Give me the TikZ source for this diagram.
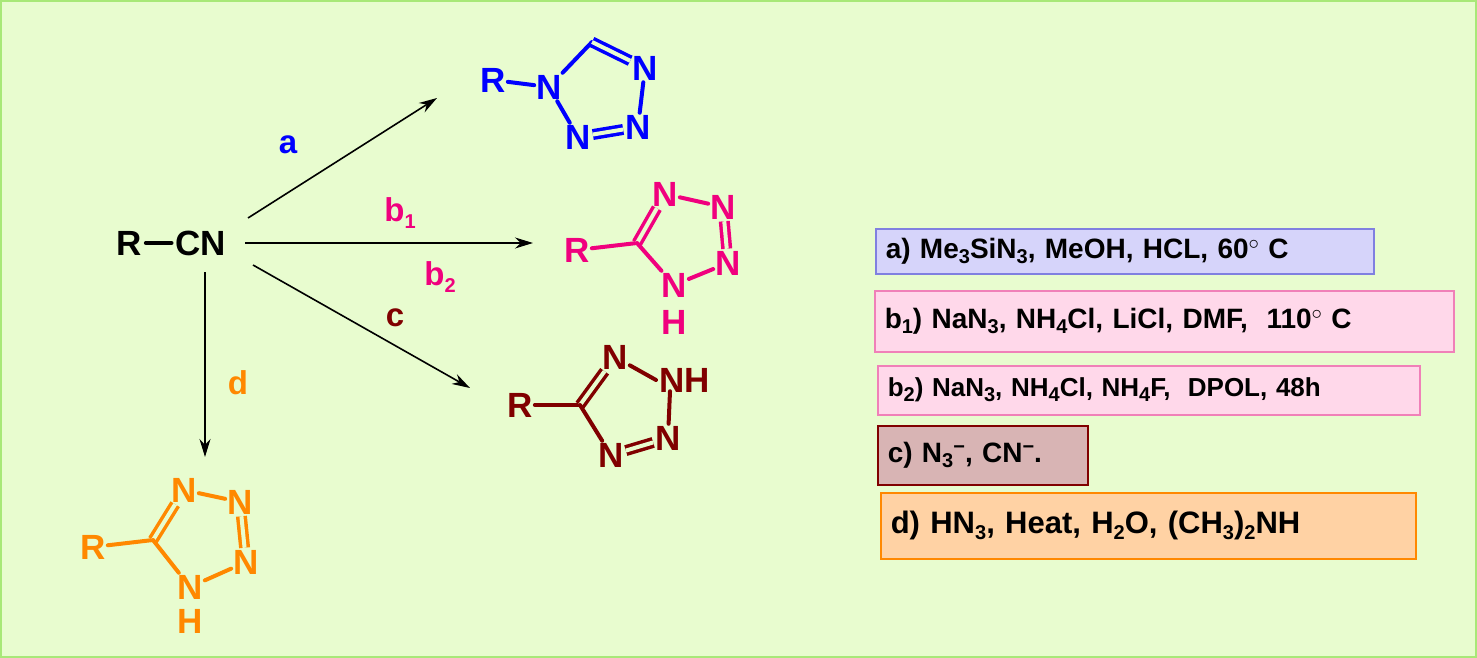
\documentclass[tikz,border=0pt]{standalone}
\usepackage{fontspec}
\setmainfont{Liberation Sans}
\usetikzlibrary{arrows.meta}
\definecolor{bg}{HTML}{E8FCCF}
\definecolor{bgb}{HTML}{A8E878}
\definecolor{cb}{HTML}{0000FF}
\definecolor{cp}{HTML}{F0007E}
\definecolor{cm}{HTML}{800000}
\definecolor{co}{HTML}{FF8800}
\definecolor{fa}{HTML}{D6D4FA}
\definecolor{ba}{HTML}{8080E0}
\definecolor{fb}{HTML}{FFD8EA}
\definecolor{bb}{HTML}{F080B8}
\definecolor{fc}{HTML}{D8B4B4}
\definecolor{fd}{HTML}{FFD2A4}
\newcommand{\dn}[1]{\raisebox{-0.35ex}{\fontsize{20}{20}\selectfont #1}}
\newcommand{\up}[1]{\raisebox{0.6ex}{\fontsize{20}{20}\selectfont #1}}
\tikzset{
 atom/.style={font=\fontsize{35}{35}\selectfont\bfseries, inner sep=2pt, text=#1},
 bond/.style={line width=4pt, line cap=round, draw=#1},
 dbl/.style={line width=3.5pt, draw=#1, double=bg, double distance=4pt},
 arr/.style={line width=1.6pt, -{Stealth[length=18pt,width=11pt]}},
 lab/.style={font=\fontsize{33}{33}\selectfont\bfseries, text=#1},
 cond/.style={line width=1.5pt, anchor=north west, inner xsep=10pt, inner ysep=0pt, align=left, font=\fontsize{28}{28}\selectfont\bfseries, text=black}
}
\begin{document}
\begin{tikzpicture}[x=1pt,y=-1pt]
\draw[bgb, fill=bg, line width=2pt] (1,1) rectangle (1476,657);
\useasboundingbox (0,0) rectangle (1477,658);
% R-CN
\node[atom=black] (R0) at (129,243) {R};
\node[atom=black] (CN) at (201,243) {CN};
\draw[bond=black, shorten <=2pt, shorten >=2pt] (R0) -- (CN);
% arrows
\coordinate (ea) at (437,98);
\coordinate (eb) at (533,243);
\coordinate (ec) at (470,388);
\coordinate (ed) at (205,457);
\coordinate (sa) at (248,218);
\coordinate (sb) at (245,243);
\coordinate (sc) at (253,265);
\coordinate (sd) at (205,272);
\draw[arr] (sa) -- (ea);
\draw[arr] (sb) -- (eb);
\draw[arr] (sc) -- (ec);
\draw[arr] (sd) -- (ed);
\node[lab=cb] (la) at (288,145) {a};
\node[lab=cp] (lb1) at (400,213) {b\dn{1}};
\node[lab=cp] (lb2) at (440,277) {b\dn{2}};
\node[lab=cm] (lc) at (395,318) {c};
\node[lab=co] (ld) at (238,383) {d};
% blue tetrazole
\node[atom=cb] (bR) at (493,80) {R};
\node[atom=cb] (bN1) at (549,87) {N};
\coordinate (bC) at (592,42);
\node[atom=cb] (bN2) at (645,68) {N};
\node[atom=cb] (bN3) at (638,127) {N};
\node[atom=cb] (bN4) at (578,137) {N};
\draw[bond=cb] (bR) -- (bN1);
\draw[bond=cb] (bN1) -- (bC);
\draw[dbl=cb] (bC) -- (bN2);
\draw[bond=cb] (bN2) -- (bN3);
\draw[dbl=cb] (bN3) -- (bN4);
\draw[bond=cb] (bN4) -- (bN1);
% pink
\node[atom=cp] (pR) at (577,250) {R};
\coordinate (pC) at (637,243);
\node[atom=cp] (pN1) at (665,194) {N};
\node[atom=cp] (pN2) at (723,207) {N};
\node[atom=cp] (pN3) at (728,263) {N};
\node[atom=cp] (pN4) at (674,285) {N};
\node[atom=cp] (pH) at (674,322) {H};
\draw[bond=cp] (pR) -- (pC);
\draw[dbl=cp] (pC) -- (pN1);
\draw[bond=cp] (pN1) -- (pN2);
\draw[dbl=cp] (pN2) -- (pN3);
\draw[bond=cp] (pN3) -- (pN4);
\draw[bond=cp] (pN4) -- (pC);
% maroon
\node[atom=cm] (mR) at (520,405) {R};
\coordinate (mC) at (580,405);
\node[atom=cm] (mN1) at (615,357) {N};
\node[atom=cm, anchor=west, inner xsep=0pt] (mN2) at (659,380) {NH};
\node[atom=cm] (mN3) at (668,438) {N};
\node[atom=cm] (mN4) at (611,455) {N};
\draw[bond=cm] (mR) -- (mC);
\draw[dbl=cm] (mC) -- (mN1);
\draw[bond=cm] (mN1) -- ([xshift=-3pt]mN2.west);
\draw[bond=cm] ([xshift=11pt,yshift=3pt]mN2.south west) -- (mN3);
\draw[dbl=cm] (mN3) -- (mN4);
\draw[bond=cm] (mN4) -- (mC);
% orange
\node[atom=co] (oR) at (93,547) {R};
\coordinate (oC) at (153,540);
\node[atom=co] (oN1) at (184,490) {N};
\node[atom=co] (oN2) at (240,502) {N};
\node[atom=co] (oN3) at (246,562) {N};
\node[atom=co] (oN4) at (190,587) {N};
\node[atom=co] (oH) at (190,621) {H};
\draw[bond=co] (oR) -- (oC);
\draw[dbl=co] (oC) -- (oN1);
\draw[bond=co] (oN1) -- (oN2);
\draw[dbl=co] (oN2) -- (oN3);
\draw[bond=co] (oN3) -- (oN4);
\draw[bond=co] (oN4) -- (oC);
% conditions
\node[cond, draw=ba, fill=fa, minimum width=498pt, minimum height=45pt, text width=478pt] (ca) at (875,228) {a) Me\dn{3}SiN\dn{3}, MeOH, HCL, 60\up{$\circ$} C};
\node[cond, draw=bb, fill=fb, minimum width=579pt, minimum height=61pt, text width=559pt] (cb1) at (874,290) {b\dn{1}) NaN\dn{3}, NH\dn{4}Cl, LiCl, DMF, \ 110\up{$\circ$} C};
\node[cond, draw=bb, fill=fb, minimum width=542pt, minimum height=49pt, text width=522pt, font=\fontsize{26}{26}\selectfont\bfseries] (cb2) at (877,365) {b\dn{2}) NaN\dn{3}, NH\dn{4}Cl, NH\dn{4}F, \ DPOL, 48h};
\node[cond, draw=cm, fill=fc, minimum width=210pt, minimum height=59pt, text width=190pt] (cc) at (877,425) {c) N\dn{3}\up{\textminus}, CN\up{\textminus}.};
\node[cond, draw=co, fill=fd, minimum width=535pt, minimum height=66pt, text width=515pt, font=\fontsize{31}{31}\selectfont\bfseries] (cd) at (880,492) {d) HN\dn{3}, Heat, H\dn{2}O, (CH\dn{3})\dn{2}NH};
\end{tikzpicture}
\end{document}
